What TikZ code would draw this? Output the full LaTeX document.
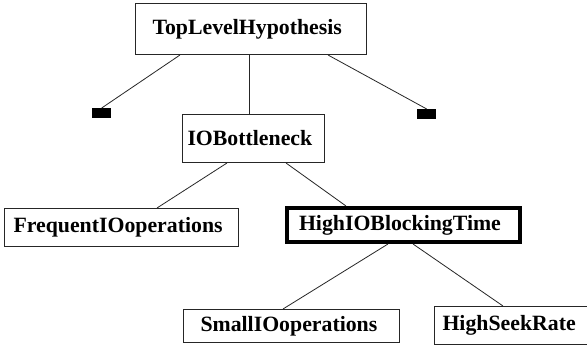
\documentclass[tikz,border=0pt]{standalone}
\usepackage{fontspec}
\setmainfont{Liberation Serif}
\begin{document}
\begin{tikzpicture}[x=1pt,y=-1pt,
  hyp/.style={draw=black!85, line width=1pt, anchor=north west, align=left,
    inner ysep=0pt, font=\fontsize{21.8}{24}\selectfont\bfseries},
  cur/.style={hyp, line width=4pt, draw=black},
  leaf/.style={fill=black, draw=none, minimum width=19pt, minimum height=10pt, inner sep=0pt, anchor=north west},
  edge/.style={draw=black!85, line width=0.8pt}]
\useasboundingbox (0,0) rectangle (587,347);
\clip (0,0) rectangle (587,347);
\fill[white] (0,0) rectangle (587,347);

\node[hyp, text width=197pt, inner xsep=17pt, minimum height=51pt] (top) at (135,3) {TopLevelHypothesis};
\node[leaf] (lr) at (92,108) {};
\node[leaf] (rr) at (417,109) {};
\node[hyp, text width=132pt, inner xsep=5pt, minimum height=48pt] (iob) at (182,114) {IOBottleneck};
\node[hyp, text width=216pt, inner xsep=9pt, minimum height=38pt] (freq) at (4,208) {FrequentIOoperations};
\node[cur, text width=209pt, inner xsep=12pt, minimum height=34pt] (high) at (285,206) {HighIOBlockingTime};
\node[hyp, text width=182pt, inner xsep=17pt, minimum height=33pt] (small) at (183,309) {SmallIOoperations};
\node[hyp, text width=150pt, inner xsep=8pt, minimum height=38pt] (seek) at (434,306) {HighSeekRate};

\draw[edge] ([xshift=45pt]top.south west) -- (lr.north);
\draw[edge] ([xshift=-1.5pt]top.south) -- ([xshift=-1.5pt]top.south |- iob.north);
\draw[edge] ([xshift=-39pt]top.south east) -- (rr.north);
\draw[edge] ([xshift=45pt]iob.south west) -- ([xshift=153pt]freq.north west);
\draw[edge] ([xshift=104pt]iob.south west) -- ([xshift=61pt]high.north west);
\draw[edge] ([xshift=103pt]high.south west) -- ([xshift=100pt]small.north west);
\draw[edge] ([xshift=128pt]high.south west) -- ([xshift=69pt]seek.north west);
\end{tikzpicture}
\end{document}
